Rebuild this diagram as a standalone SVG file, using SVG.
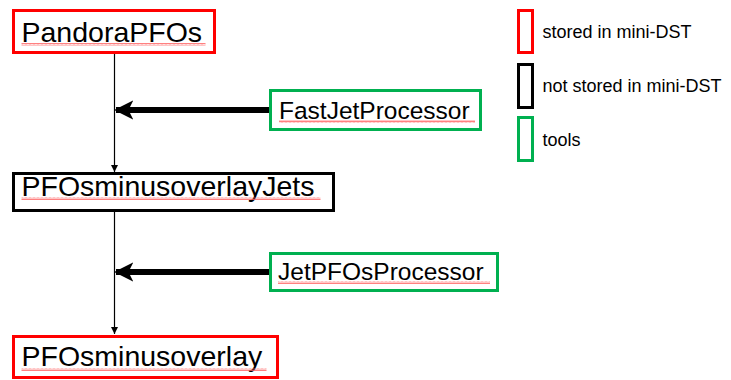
<svg xmlns="http://www.w3.org/2000/svg" width="731" height="380" viewBox="0 0 731 380">
<style>
.box{fill:#fff;stroke-width:3}
.red{stroke:#ff0000}
.blk{stroke:#000}
.grn{stroke:#00b050}
.big{font-family:"Liberation Sans",Arial,sans-serif;font-size:28.5px;fill:#000}
.mid{font-family:"Liberation Sans",Arial,sans-serif;font-size:24.5px;fill:#000}
.leg{font-family:"Liberation Sans",Arial,sans-serif;font-size:18px;fill:#000}
.thin{stroke:#000;stroke-width:1.2;fill:none}
.thick{stroke:#000;stroke-width:6;fill:none}
.sq{fill:url(#squiggle)}
</style>
<defs>
<marker id="ah" viewBox="0 0 10 10" refX="10" refY="5" markerWidth="7" markerHeight="7" markerUnits="userSpaceOnUse" orient="auto">
<path d="M0,0 L10,5 L0,10 Z" fill="#000"/>
</marker>
<marker id="bh" viewBox="0 0 10 10" refX="9" refY="5" markerWidth="3.2" markerHeight="3.2" orient="auto">
<path d="M0,0 L10,5 L0,10 L2.5,5 Z" fill="#000"/>
</marker>
<pattern id="squiggle" x="0" y="0" width="4" height="3" patternUnits="userSpaceOnUse">
<path d="M0,2.5 L1,0.5 L2,2.5 L3,0.5 L4,2.5" stroke="#ff6060" stroke-width="0.8" fill="none"/>
</pattern>
</defs>
<g id="connectors">
<line class="thin" x1="114.5" y1="52" x2="114.5" y2="172" marker-end="url(#ah)"/>
<line class="thin" x1="114.5" y1="210" x2="114.5" y2="334" marker-end="url(#ah)"/>
<line class="thick" x1="270" y1="110" x2="116" y2="110" marker-end="url(#bh)"/>
<line class="thick" x1="270" y1="272" x2="116" y2="272" marker-end="url(#bh)"/>
</g>
<g id="PandoraPFOs">
<rect class="box red" x="13.5" y="10.5" width="201" height="42"/>
<text class="big" x="21.5" y="42">PandoraPFOs</text>
<rect class="sq" x="21.5" y="43" width="184" height="3"/>
</g>
<g id="FastJetProcessor">
<rect class="box grn" x="270.5" y="90.5" width="210" height="39"/>
<text class="mid" x="279" y="118.5">FastJetProcessor</text>
<rect class="sq" x="279" y="120" width="196" height="3"/>
</g>
<g id="PFOsminusoverlayJets">
<rect class="box blk" x="13.5" y="173.5" width="320" height="37"/>
<text class="big" x="21.5" y="195.5">PFOsminusoverlayJets</text>
<rect class="sq" x="21.5" y="197" width="299" height="3"/>
</g>
<g id="JetPFOsProcessor">
<rect class="box grn" x="270.5" y="253.5" width="227" height="37"/>
<text class="mid" x="278" y="280">JetPFOsProcessor</text>
<rect class="sq" x="278" y="281" width="212" height="3"/>
</g>
<g id="PFOsminusoverlay">
<rect class="box red" x="13.5" y="336.5" width="264" height="41"/>
<text class="big" x="21.5" y="365.5">PFOsminusoverlay</text>
<rect class="sq" x="21.5" y="368" width="245" height="3"/>
</g>
<g id="legend">
<rect class="box red" x="518.5" y="10.5" width="14" height="42"/>
<text class="leg" x="542.5" y="38">stored in mini-DST</text>
<rect class="box blk" x="518.5" y="64.5" width="14" height="43"/>
<text class="leg" x="542.5" y="91.5">not stored in mini-DST</text>
<rect class="box grn" x="518.5" y="117.5" width="14" height="43"/>
<text class="leg" x="542.5" y="146">tools</text>
</g>
</svg>
